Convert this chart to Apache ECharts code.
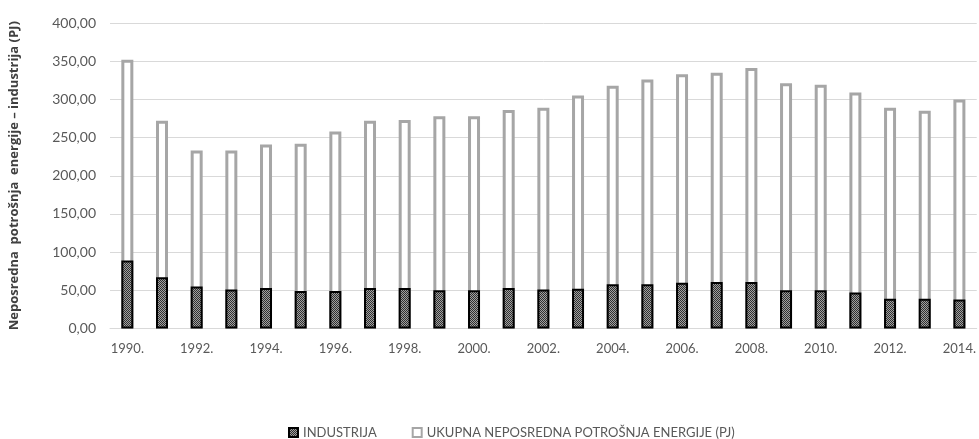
<!DOCTYPE html>
<html><head><meta charset="utf-8">
<script src="https://cdn.jsdelivr.net/npm/echarts@6/dist/echarts.min.js"></script>
<style>html,body{margin:0;padding:0;background:#fff}#c{width:979px;height:439px}</style>
</head><body><div id="c"></div>
<script>
const years = ['1990.','1991.','1992.','1993.','1994.','1995.','1996.','1997.','1998.','1999.','2000.','2001.','2002.','2003.','2004.','2005.','2006.','2007.','2008.','2009.','2010.','2011.','2012.','2013.','2014.'];
const ukupno = [352,272,233,233,241,242,258,272,273,278,278,286,289,305,318,326,333,335,341,321,319,309,289,285,300];
const industrija = [89,67,55,51,53,49,49,53,53,50,50,53,51,52,58,58,60,61,61,50,50,47,39,39,38];
const yTicks = [0,50,100,150,200,250,300,350,400];

const pc = document.createElement('canvas');
pc.width = 2; pc.height = 2;
const g = pc.getContext('2d');
g.fillStyle = '#a0a0a0'; g.fillRect(0,0,2,2);
g.fillStyle = '#303030'; g.fillRect(0,0,1,1); g.fillRect(1,1,1,1);
const pattern = {image: pc, repeat: 'repeat'};

const chart = echarts.init(document.getElementById('c'));
const font = 'Lato, "Open Sans", sans-serif';
chart.setOption({
  animation: false,
  grid: {left: 110, right: 2, top: 23, bottom: 110.5, containLabel: false},
  legend: {
    top: 421, left: 283, itemWidth: 9, itemHeight: 9, itemGap: 35,
    icon: 'rect',
    textStyle: {color: '#595959', fontSize: 13, fontFamily: font},
    data: ['INDUSTRIJA', 'UKUPNA NEPOSREDNA POTROŠNJA ENERGIJE (PJ)']
  },
  xAxis: {
    type: 'category', data: years,
    axisLine: {show: true, lineStyle: {color: '#d9d9d9'}},
    axisTick: {show: false},
    axisLabel: {interval: 1, color: '#595959', fontSize: 13, fontFamily: font, margin: 14}
  },
  yAxis: {
    type: 'value', min: yTicks[0], max: yTicks[yTicks.length - 1], interval: 50,
    name: 'Neposredna  potrošnja  energije – industrija (PJ)',
    nameLocation: 'middle', nameGap: 89, nameRotate: 90,
    nameTextStyle: {color: '#404040', fontSize: 13, fontWeight: 'bold', fontFamily: '"Open Sans", sans-serif'},
    axisLine: {show: false}, axisTick: {show: false},
    splitLine: {lineStyle: {color: '#d9d9d9'}},
    axisLabel: {color: '#595959', fontSize: 14, fontFamily: font, margin: 14,
      formatter: v => v.toFixed(2).replace('.', ',')}
  },
  series: [
    {
      name: 'UKUPNA NEPOSREDNA POTROŠNJA ENERGIJE (PJ)', type: 'bar', data: ukupno,
      barWidth: 12, barGap: '-100%',
      itemStyle: {color: '#ffffff', borderColor: '#a6a6a6', borderWidth: 3}
    },
    {
      name: 'INDUSTRIJA', type: 'bar', data: industrija,
      barWidth: 12,
      itemStyle: {color: pattern, borderColor: '#000000', borderWidth: 2}
    }
  ]
});
</script></body></html>
